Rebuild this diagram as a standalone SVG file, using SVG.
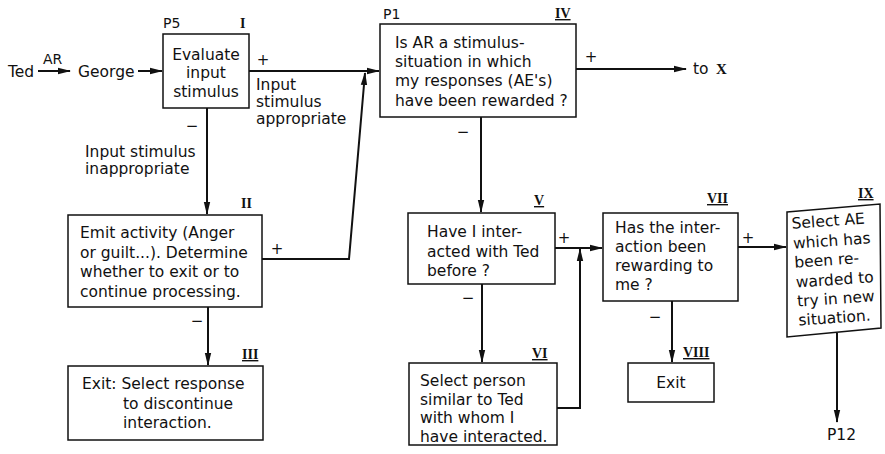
<svg xmlns="http://www.w3.org/2000/svg" width="885" height="454" viewBox="0 0 885 454">
<style>
text{font-family:"DejaVu Sans","Liberation Sans",sans-serif;font-size:15.5px;fill:#111}
.c{text-anchor:middle}
.rn{font-family:"Liberation Serif","DejaVu Serif",serif;font-weight:bold;font-size:14px}
.u{text-decoration:underline}
.sg{font-size:15px;text-anchor:middle}
.box{fill:#fff;stroke:#111;stroke-width:1.5}
.ln{fill:none;stroke:#111;stroke-width:2}
</style>
<defs>
<marker id="ah" markerWidth="13" markerHeight="8" refX="12" refY="4" orient="auto" markerUnits="userSpaceOnUse">
<path d="M0,0.8 L13,4 L0,7.2 z" fill="#111"/>
</marker>
</defs>

<g id="connectors">
<line class="ln" x1="38" y1="71" x2="70" y2="71" marker-end="url(#ah)"/>
<line class="ln" x1="138" y1="71" x2="162" y2="71" marker-end="url(#ah)"/>
<line class="ln" x1="249" y1="71" x2="379" y2="71" marker-end="url(#ah)"/>
<line class="ln" x1="576" y1="69" x2="686" y2="69" marker-end="url(#ah)"/>
<line class="ln" x1="207" y1="108" x2="207" y2="214" marker-end="url(#ah)"/>
<polyline class="ln" points="262,259 349,259 365,73" marker-end="url(#ah)"/>
<line class="ln" x1="208" y1="307" x2="208" y2="365" marker-end="url(#ah)"/>
<line class="ln" x1="481" y1="117" x2="481" y2="212" marker-end="url(#ah)"/>
<line class="ln" x1="555" y1="248" x2="602" y2="248" marker-end="url(#ah)"/>
<polyline class="ln" points="557,408 580,408 580,249" marker-end="url(#ah)"/>
<line class="ln" x1="482" y1="284" x2="482" y2="362" marker-end="url(#ah)"/>
<line class="ln" x1="738" y1="247" x2="786" y2="247" marker-end="url(#ah)"/>
<line class="ln" x1="672" y1="301" x2="672" y2="362" marker-end="url(#ah)"/>
<line class="ln" x1="837" y1="333" x2="837" y2="422" marker-end="url(#ah)"/>
</g>

<g id="labels">
<text x="8" y="77">Ted</text>
<text x="43" y="64" style="font-size:14px">AR</text>
<text x="78" y="77">George</text>
<text class="sg" x="263" y="65">+</text>
<text x="256" y="90">Input</text>
<text x="256" y="107">stimulus</text>
<text x="256" y="124">appropriate</text>
<text class="sg" x="192" y="131">−</text>
<text x="85" y="157">Input stimulus</text>
<text x="85" y="174">inappropriate</text>
<text class="sg" x="277" y="254">+</text>
<text class="sg" x="197" y="326">−</text>
<text class="sg" x="591" y="62">+</text>
<text x="693" y="74">to</text>
<text class="rn" x="716" y="74" style="font-size:15px">X</text>
<text class="sg" x="463" y="137">−</text>
<text class="sg" x="564" y="243">+</text>
<text class="sg" x="468" y="303">−</text>
<text class="sg" x="748" y="243">+</text>
<text class="sg" x="655" y="322">−</text>
<text x="827" y="440">P12</text>
</g>

<g id="n1">
<rect class="box" x="163" y="34" width="86" height="74"/>
<text x="163" y="28" style="font-size:14px">P5</text>
<text class="rn" x="240" y="28">I</text>
<text class="c" x="206" y="60">Evaluate</text>
<text class="c" x="206" y="78">input</text>
<text class="c" x="206" y="97">stimulus</text>
</g>

<g id="n2">
<rect class="box" x="68" y="215" width="194" height="92"/>
<text class="rn" x="241" y="208">II</text>
<text x="80" y="238">Emit activity (Anger</text>
<text x="80" y="258">or guilt...). Determine</text>
<text x="80" y="277">whether to exit or to</text>
<text x="80" y="297">continue processing.</text>
</g>

<g id="n3">
<rect class="box" x="68" y="366" width="195" height="74"/>
<text class="rn u" x="242" y="359">III</text>
<text x="82" y="389">Exit: Select response</text>
<text x="123" y="409">to discontinue</text>
<text x="123" y="428">interaction.</text>
</g>

<g id="n4">
<rect class="box" x="380" y="24" width="196" height="93"/>
<text x="383" y="19" style="font-size:14px">P1</text>
<text class="rn u" x="555" y="18">IV</text>
<text x="395" y="48">Is AR a stimulus-</text>
<text x="395" y="67">situation in which</text>
<text x="395" y="86">my responses (AE's)</text>
<text x="395" y="106">have been rewarded ?</text>
</g>

<g id="n5">
<rect class="box" x="408" y="213" width="147" height="71"/>
<text class="rn u" x="534" y="205">V</text>
<text x="427" y="237">Have I inter-</text>
<text x="427" y="257">acted with Ted</text>
<text x="427" y="276">before ?</text>
</g>

<g id="n6">
<rect class="box" x="409" y="363" width="148" height="82"/>
<text class="rn u" x="532" y="358">VI</text>
<text x="420" y="386">Select person</text>
<text x="420" y="405">similar to Ted</text>
<text x="420" y="423">with whom I</text>
<text x="420" y="442">have interacted.</text>
</g>

<g id="n7">
<rect class="box" x="603" y="213" width="135" height="88"/>
<text class="rn u" x="707" y="203">VII</text>
<text x="615" y="233">Has the inter-</text>
<text x="615" y="252">action been</text>
<text x="615" y="271">rewarding to</text>
<text x="615" y="290">me ?</text>
</g>

<g id="n8">
<rect class="box" x="628" y="363" width="86" height="39"/>
<text class="rn u" x="683" y="357">VIII</text>
<text class="c" x="671" y="388">Exit</text>
</g>

<g id="n9">
<polygon class="box" points="787,212 880,204 881,328 787,337"/>
<text class="rn u" x="858" y="198">IX</text>
<g transform="rotate(-4 833 270)">
<text x="795" y="226">Select AE</text>
<text x="795" y="246">which has</text>
<text x="795" y="265">been re-</text>
<text x="795" y="285">warded to</text>
<text x="795" y="304">try in new</text>
<text x="795" y="323">situation.</text>
</g>
</g>
</svg>
